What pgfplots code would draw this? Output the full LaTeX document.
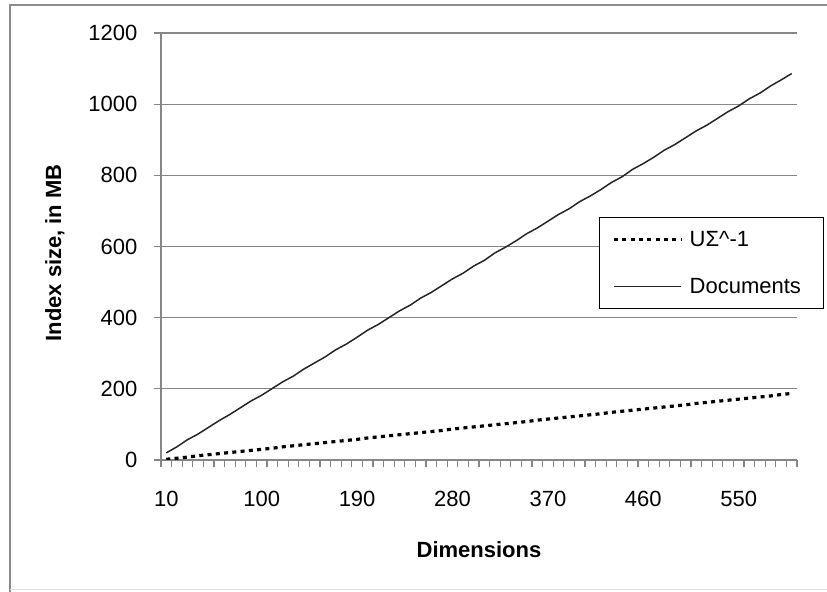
\documentclass[border=0pt]{standalone}
\usepackage{fontspec}
\setmainfont{Liberation Sans}
\usepackage{pgfplots}
\pgfplotsset{compat=1.18}

\definecolor{gridgray}{HTML}{868686}
\definecolor{framegray}{HTML}{8C8C8C}

\begin{document}
\begin{tikzpicture}[x=1bp,y=1bp]
  % chart area (827 x 592)
  \useasboundingbox (0,0) rectangle (827,592);
  \draw[framegray, line width=2bp] (10,-5) -- (10,587) -- (840,587);
  \draw[gray!25, line width=1bp] (10,2) -- (840,2);

  \begin{axis}[
    at={(161bp,132bp)}, anchor=south west,
    scale only axis, width=636bp, height=427bp,
    font=\fontsize{22bp}{26bp}\selectfont,
    /pgf/number format/assume math mode=true,
    /pgf/number format/1000 sep={},
    xmin=5, xmax=605, ymin=0, ymax=1200,
    axis lines*=left,
    axis line style={gridgray, line width=1.2bp},
    ytick={0,200,...,1200},
    ymajorgrids, grid style={gridgray, line width=1.2bp},
    xtick={5,15,...,605}, xticklabels={},
    extra x ticks={10,100,190,280,370,460,550},
    extra x tick labels={10,100,190,280,370,460,550},
    extra x tick style={major tick length=0pt, grid=none},
    tick align=outside, major tick length=7.5bp,
    tick style={gridgray, line width=1.2bp},
    xticklabel style={inner sep=0pt, anchor=north, yshift=-31bp},
    yticklabel style={inner sep=0pt, anchor=east, xshift=-16bp},
    xlabel={\bfseries Dimensions},
    ylabel={\bfseries Index size, in MB},
    xlabel style={at={(rel axis cs:0.5,0)}, anchor=center, yshift=-90bp},
    ylabel style={at={(rel axis cs:-0.1667,0.485)}, anchor=center},
    legend style={at={(rel axis cs:0.6887,0.569)}, anchor=north west,
      draw=black, line width=1bp, fill=white,
      inner xsep=13bp, inner ysep=11bp,
      row sep=24bp, column sep=4bp,
      nodes={inner sep=3bp, text width=118bp},
      font=\fontsize{22bp}{26bp}\selectfont},
    legend cell align=left,
    legend image code/.code={\draw[#1] (0bp,0bp) -- (67bp,0bp);},
  ]
    % U Sigma^-1 index
    \addplot[black, line width=3.2bp, dash pattern=on 4bp off 4.3bp, line cap=butt] coordinates {
      (10,2) (20,5) (30,8) (40,12) (50,15) (60,18) (70,21) (80,24) (90,27) (100,30)
      (110,33) (120,37) (130,40) (140,43) (150,46) (160,49) (170,52) (180,55) (190,58) (200,62)
      (210,65) (220,68) (230,71) (240,74) (250,77) (260,80) (270,83) (280,87) (290,90) (300,93)
      (310,96) (320,99) (330,102) (340,105) (350,108) (360,112) (370,115) (380,118) (390,121) (400,124)
      (410,127) (420,130) (430,134) (440,137) (450,140) (460,143) (470,146) (480,149) (490,152) (500,155)
      (510,159) (520,162) (530,165) (540,168) (550,171) (560,174) (570,177) (580,180) (590,184) (600,187)
    };
    \addlegendentry{UΣ\textasciicircum-1}
    % document index
    \addplot[black!85, line width=1.5bp] coordinates {
      (10,20) (20,37) (30,57) (40,73) (50,92) (60,111) (70,128) (80,147) (90,166) (100,182)
      (110,201) (120,220) (130,236) (140,256) (150,273) (160,290) (170,310) (180,326) (190,345) (200,365)
      (210,381) (220,400) (230,419) (240,435) (250,455) (260,471) (270,490) (280,509) (290,525) (300,545)
      (310,561) (320,582) (330,598) (340,616) (350,636) (360,652) (370,671) (380,690) (390,706) (400,726)
      (410,742) (420,760) (430,780) (440,796) (450,817) (460,833) (470,851) (480,871) (490,887) (500,906)
      (510,925) (520,941) (530,960) (540,979) (550,995) (560,1015) (570,1031) (580,1051) (590,1068) (600,1086)
    };
    \addlegendentry{Documents}
  \end{axis}
\end{tikzpicture}
\end{document}
